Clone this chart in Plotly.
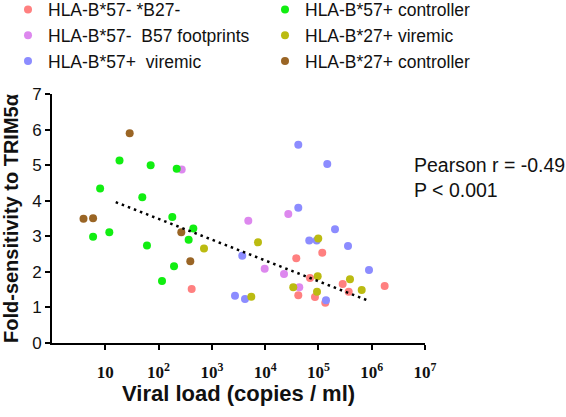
import plotly.graph_objects as go

# ---- data (viral load copies/ml, fold-sensitivity) ----
neg_neg_x = [418, 118000, 38400, 69400, 285000, 1750000, 370000, 41900, 86100, 134500]
neg_neg_y = [1.52, 2.54, 2.38, 1.83, 1.66, 1.60, 1.44, 1.34, 1.29, 1.13]

foot_x = [272, 27200, 4830, 9800, 22600, 43700]
foot_y = [4.88, 3.63, 3.44, 2.09, 1.94, 1.57]

b57_vir_x = [41900, 146600, 41900, 204600, 67300, 92700, 359000, 3720, 889000, 2717, 4185, 138600]
b57_vir_y = [5.57, 5.03, 3.80, 3.20, 2.88, 2.88, 2.73, 2.45, 2.05, 1.33, 1.24, 1.20]

b57_ctl_x = [18.5, 71, 219, 8.0, 49.5, 181, 5.9, 11.9, 449, 367, 60.6, 195, 116]
b57_ctl_y = [5.13, 5.00, 4.90, 4.34, 4.10, 3.54, 2.99, 3.11, 3.22, 2.90, 2.74, 2.16, 1.74]

b27_vir_x = [712, 99300, 7340, 96800, 391000, 33700, 649000, 94000, 5500]
b27_vir_y = [2.66, 2.94, 2.83, 1.88, 1.79, 1.57, 1.49, 1.44, 1.30]

b27_ctl_x = [3.9, 5.9, 267, 394, 28.7]
b27_ctl_y = [3.49, 3.51, 3.11, 2.30, 5.90]

trend_x = [15.7, 826000]
trend_y = [3.96, 1.20]

x_tickvals = [1e1, 1e2, 1e3, 1e4, 1e5, 1e6, 1e7]
x_ticktext = ["10", "10<sup>2</sup>", "10<sup>3</sup>", "10<sup>4</sup>",
              "10<sup>5</sup>", "10<sup>6</sup>", "10<sup>7</sup>"]
y_tickvals = [0, 1, 2, 3, 4, 5, 6, 7]

series = [
    ("HLA-B*57- *B27-", neg_neg_x, neg_neg_y, "#FF8080", "legend"),
    ("HLA-B*57-  B57 footprints", foot_x, foot_y, "#DD88EE", "legend"),
    ("HLA-B*57+  viremic", b57_vir_x, b57_vir_y, "#8C8CFF", "legend"),
    ("HLA-B*57+ controller", b57_ctl_x, b57_ctl_y, "#11EE11", "legend2"),
    ("HLA-B*27+ viremic", b27_vir_x, b27_vir_y, "#BBBB11", "legend2"),
    ("HLA-B*27+ controller", b27_ctl_x, b27_ctl_y, "#9A6525", "legend2"),
]

fig = go.Figure()
for name, xs, ys, col, lg in series:
    fig.add_trace(go.Scatter(
        x=xs, y=ys, mode="markers", name=name, legend=lg,
        marker=dict(size=8, color=col, line=dict(width=0)),
    ))

fig.add_trace(go.Scatter(
    x=trend_x, y=trend_y, mode="lines", showlegend=False,
    line=dict(color="black", width=2.5, dash="2.5px,4px"),
))

W, H = 566, 417
ml, mr, mt, mb = 52, 141, 94, 74
pw, ph = W - ml - mr, H - mt - mb


def px_x(p):
    return (p - ml) / pw


def px_y(p):
    return (H - mb - p) / ph


fig.update_layout(
    width=W, height=H,
    margin=dict(l=ml, r=mr, t=mt, b=mb, autoexpand=False),
    paper_bgcolor="white", plot_bgcolor="white",
    font=dict(family="Arial, Liberation Sans, sans-serif", size=17, color="#111"),
    legend=dict(x=px_x(8), xanchor="left", y=px_y(-8.5), yanchor="top",
                font=dict(size=17.5), bgcolor="rgba(0,0,0,0)", tracegroupgap=0),
    legend2=dict(x=px_x(265), xanchor="left", y=px_y(-8.5), yanchor="top",
                 font=dict(size=17.5), bgcolor="rgba(0,0,0,0)", tracegroupgap=0),
    xaxis=dict(
        type="log", range=[0, 7],
        tickvals=x_tickvals, ticktext=x_ticktext,
        tickfont=dict(family="Liberation Serif, Times New Roman, serif", size=17,
                      weight="bold", color="#111"),
        ticks="outside", ticklen=5, tickwidth=2, tickcolor="black",
        ticklabelstandoff=8,
        showline=True, linecolor="black", linewidth=2,
        showgrid=False, zeroline=False,
    ),
    yaxis=dict(
        range=[0, 7], tickvals=y_tickvals,
        tickfont=dict(size=17, color="#111"),
        ticks="outside", ticklen=5, tickwidth=2, tickcolor="black",
        showline=True, linecolor="black", linewidth=2,
        showgrid=False, zeroline=False,
        title=dict(text="<b>Fold-sensitivity to TRIM5α</b>",
                   font=dict(size=20, color="#111"), standoff=18),
    ),
    annotations=[
        dict(text="<b>Viral load (copies / ml)</b>", xref="paper", yref="paper",
             x=0.5, y=px_y(393), xanchor="center", yanchor="middle",
             showarrow=False, font=dict(size=22, color="#111")),
        dict(text="Pearson r = -0.49", xref="paper", yref="paper",
             x=px_x(412), y=px_y(165),
             xanchor="left", yanchor="middle", showarrow=False,
             font=dict(size=19.5, color="#111")),
        dict(text="P < 0.001", xref="paper", yref="paper",
             x=px_x(412), y=px_y(190),
             xanchor="left", yanchor="middle", showarrow=False,
             font=dict(size=19.5, color="#111")),
    ],
)

# remove the browser's default 8px page margin so the figure sits at (0, 0)
fig.write_html("out.html", config={"displayModeBar": False},
               post_script="document.body.style.margin='0';")
